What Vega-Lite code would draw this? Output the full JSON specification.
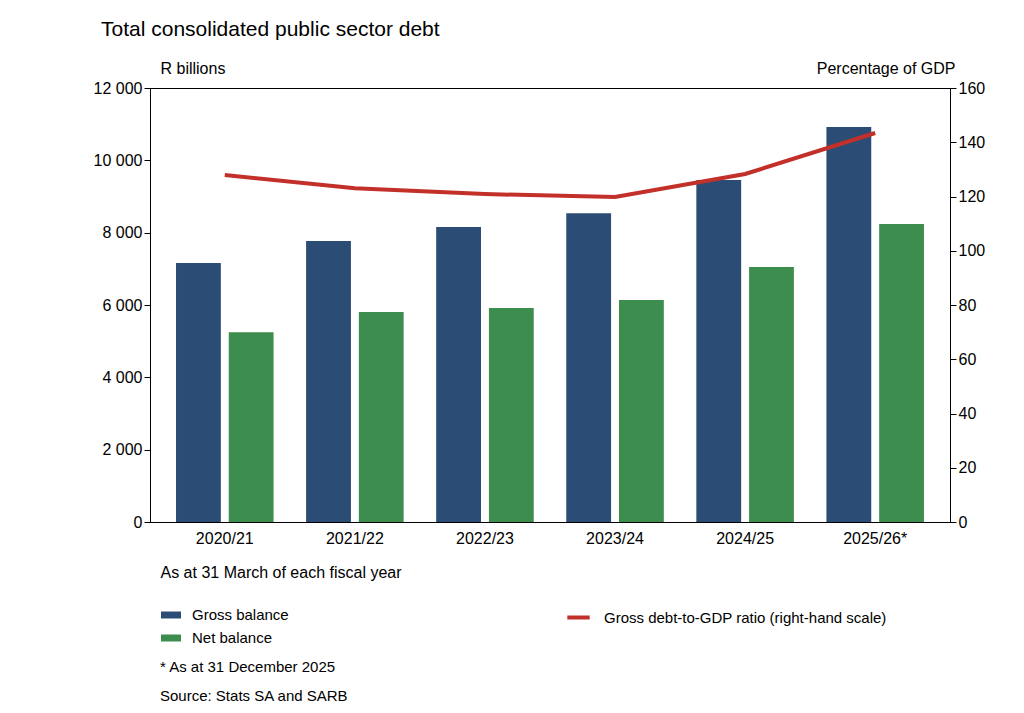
{
  "$schema": "https://vega.github.io/schema/vega-lite/v6.json",
  "width": 800,
  "height": 434,
  "autosize": "none",
  "padding": {"left": 150, "top": 88, "right": 74, "bottom": 191},
  "background": "white",
  "title": {
    "text": "Total consolidated public sector debt",
    "anchor": "start",
    "frame": "bounds",
    "offset": 20,
    "dx": 8,
    "font": "Liberation Sans",
    "fontSize": 21,
    "fontWeight": "normal",
    "color": "black"
  },
  "data": {
    "values": [
      {"year": "2020/21", "Gross balance": 7160, "Net balance": 5250, "ratio": 127.9},
      {"year": "2021/22", "Gross balance": 7770, "Net balance": 5806, "ratio": 123.0},
      {"year": "2022/23", "Gross balance": 8155, "Net balance": 5916, "ratio": 120.9},
      {"year": "2023/24", "Gross balance": 8540, "Net balance": 6140, "ratio": 119.8},
      {"year": "2024/25", "Gross balance": 9455, "Net balance": 7050, "ratio": 128.3},
      {"year": "2025/26*", "Gross balance": 10920, "Net balance": 8240, "ratio": 143.4}
    ]
  },
  "encoding": {
    "x": {
      "field": "year",
      "type": "nominal",
      "sort": null,
      "scale": {"paddingInner": 0.25, "paddingOuter": 0.2},
      "axis": {
        "labelAngle": 0,
        "ticks": false,
        "labelPadding": 8,
        "title": "As at 31 March of each fiscal year",
        "titleAnchor": "start",
        "titleAlign": "left",
        "titleBaseline": "top",
        "titleX": 10,
        "titleY": 42
      }
    }
  },
  "layer": [
    {
      "transform": [{"fold": ["Gross balance", "Net balance"], "as": ["series", "value"]}],
      "mark": {"type": "bar"},
      "encoding": {
        "xOffset": {"field": "series", "type": "nominal", "scale": {"paddingInner": 0.15}},
        "y": {
          "field": "value",
          "type": "quantitative",
          "scale": {"domain": [0, 12000]},
          "axis": {
            "values": [0, 2000, 4000, 6000, 8000, 10000, 12000],
            "labelExpr": "replace(format(datum.value, ',d'), ',', ' ')",
            "title": "R billions",
            "titleAngle": 0,
            "titleAlign": "left",
            "titleBaseline": "bottom",
            "titleX": 10,
            "titleY": -12
          }
        },
        "color": {
          "field": "series",
          "type": "nominal",
          "scale": {"domain": ["Gross balance", "Net balance"], "range": ["#2b4c74", "#3d8e4e"]},
          "legend": {
            "orient": "none",
            "legendX": 10,
            "legendY": 516,
            "title": ["* As at 31 December 2025", "Source: Stats SA and SARB"],
            "titleOrient": "bottom",
            "titleAnchor": "start",
            "titleFontSize": 15,
            "titleFontWeight": "normal",
            "titleColor": "black",
            "titleFont": "Liberation Sans",
            "titleLineHeight": 29,
            "titlePadding": 14,
            "titleLimit": 400,
            "symbolType": "M-1,-0.35H1V0.35H-1Z",
            "symbolSize": 400,
            "rowPadding": 4,
            "labelOffset": 10
          }
        }
      }
    },
    {
      "mark": {"type": "line", "strokeWidth": 4},
      "encoding": {
        "y": {
          "field": "ratio",
          "type": "quantitative",
          "scale": {"domain": [0, 160]},
          "axis": {
            "orient": "right",
            "values": [0, 20, 40, 60, 80, 100, 120, 140, 160],
            "title": "Percentage of GDP",
            "titleAngle": 0,
            "titleAlign": "right",
            "titleBaseline": "bottom",
            "titleX": 5,
            "titleY": -12
          }
        },
        "stroke": {
          "datum": "Gross debt-to-GDP ratio (right-hand scale)",
          "type": "nominal",
          "scale": {"range": ["#c3302a"]},
          "legend": {
            "orient": "none",
            "legendX": 415,
            "legendY": 516,
            "title": null,
            "symbolType": "stroke",
            "symbolStrokeWidth": 4,
            "symbolSize": 500,
            "labelOffset": 12,
            "labelLimit": 400
          }
        }
      }
    }
  ],
  "resolve": {"scale": {"y": "independent"}},
  "config": {
    "font": "Liberation Sans",
    "view": {"stroke": "black", "strokeWidth": 1},
    "axis": {
      "grid": false,
      "domainColor": "black",
      "tickColor": "black",
      "labelColor": "black",
      "titleColor": "black",
      "labelFont": "Liberation Sans",
      "titleFont": "Liberation Sans",
      "labelFontSize": 16,
      "titleFontSize": 16,
      "titleFontWeight": "normal",
      "tickSize": 6
    },
    "legend": {"labelFontSize": 15, "labelColor": "black", "labelFont": "Liberation Sans", "labelLimit": 300}
  }
}
